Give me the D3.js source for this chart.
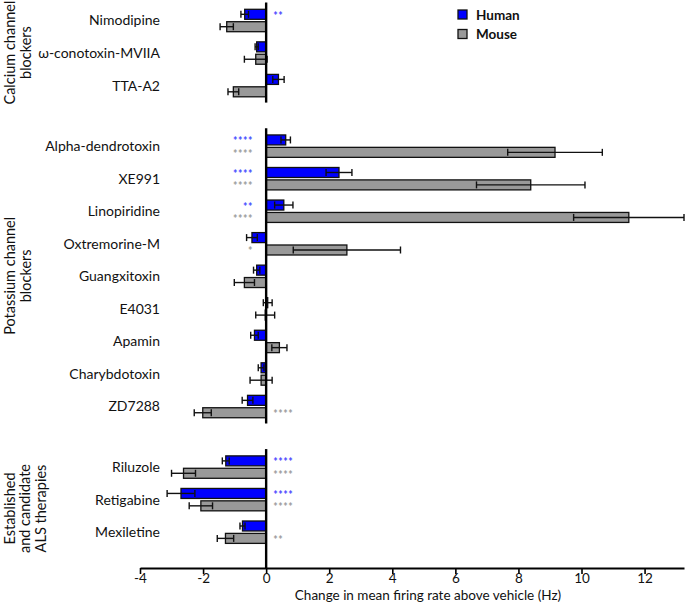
<!DOCTYPE html>
<html><head><meta charset="utf-8">
<script src="https://cdn.jsdelivr.net/npm/d3@7/dist/d3.min.js"></script>
<style>body{margin:0;background:#fff}svg{display:block}text{font-family:Lato,"Open Sans",sans-serif}</style>
</head><body><svg id="c" width="685" height="607"></svg>
<script>
const categories = ["Nimodipine","\u03c9-conotoxin-MVIIA","TTA-A2","Alpha-dendrotoxin","XE991","Linopiridine","Oxtremorine-M","Guangxitoxin","E4031","Apamin","Charybdotoxin","ZD7288","Riluzole","Retigabine","Mexiletine"];
const groupOf = [0,0,0,1,1,1,1,1,1,1,1,1,2,2,2];
const groupLabels = [["Calcium channel","blockers"],["Potassium channel","blockers"],["Established","and candidate","ALS therapies"]];
const humanMean = [-0.68,-0.30,0.39,0.62,2.31,0.56,-0.45,-0.30,0.05,-0.37,-0.16,-0.59,-1.28,-2.70,-0.75];
const humanErr  = [0.12,0.05,0.18,0.15,0.41,0.29,0.17,0.10,0.14,0.12,0.09,0.17,0.11,0.44,0.08];
const mouseMean = [-1.25,-0.33,-1.04,9.16,8.39,11.5,2.56,-0.69,-0.03,0.42,-0.16,-2.01,-2.62,-2.07,-1.29];
const mouseErr  = [0.21,0.36,0.17,1.5,1.72,1.75,1.7,0.32,0.30,0.24,0.35,0.27,0.38,0.37,0.26];
const humanSig = ["**","","","****","****","**","","","","","","","****","****",""];
const mouseSig = ["","","","****","****","****","*","","","","","****","****","****","**"];
const xTicks = [-4,-2,0,2,4,6,8,10,12];
const seriesNames = ["Human","Mouse"];
const seriesColors = ["#0000ff","#999999"];
const sigColors = ["#4646ff","#9a9a9a"];

const svg = d3.select("#c");
const x = d3.scaleLinear().domain([-4,13.25]).range([140,684]);
const slot = d3.scaleLinear().domain([0,1]).range([20.5,53.05]);
const yc = i => slot(i + groupOf[i]*0.86);
const barH = 10, off = 6.2;
const axisY = 568;

// bars
categories.forEach((c,i)=>{
  [[humanMean,-off,0],[mouseMean,off,1]].forEach(([m,dy,s])=>{
    const v=m[i], y=yc(i)+dy;
    svg.append("rect").attr("x",Math.min(x(0),x(v))).attr("y",y-barH/2)
      .attr("width",Math.abs(x(v)-x(0))).attr("height",barH)
      .attr("fill",seriesColors[s]).attr("stroke","#111").attr("stroke-width",1.3);
  });
});
// error bars
categories.forEach((c,i)=>{
  [[humanMean,humanErr,-off],[mouseMean,mouseErr,off]].forEach(([m,e,dy])=>{
    const y=yc(i)+dy, a=x(m[i]-e[i]), b=x(m[i]+e[i]);
    const g=svg.append("g").attr("stroke","#111").attr("stroke-width",1.4);
    g.append("line").attr("x1",a).attr("x2",b).attr("y1",y).attr("y2",y);
    g.append("line").attr("x1",a).attr("x2",a).attr("y1",y-3.5).attr("y2",y+3.5);
    g.append("line").attr("x1",b).attr("x2",b).attr("y1",y-3.5).attr("y2",y+3.5);
  });
});
// zero line segments per group + group labels
[0,1,2].forEach(g=>{
  const idx=categories.map((c,i)=>i).filter(i=>groupOf[i]===g);
  const y1=yc(idx[0])-18, y2 = g===2? axisY : yc(idx[idx.length-1])+17;
  svg.append("line").attr("x1",x(0)).attr("x2",x(0)).attr("y1",y1).attr("y2",y2)
    .attr("stroke","#000").attr("stroke-width",2.4);
  const lines=groupLabels[g];
  const cy=(y1+y2)/2;
  const step = lines.length===3 ? 15.5 : 16.5;
  lines.forEach((t,k)=>{
    svg.append("text").attr("transform",`translate(${14.5+k*step},${cy}) rotate(-90)`)
      .attr("text-anchor","middle").attr("font-size",14.5).attr("fill","#111").text(t);
  });
});
// category labels
categories.forEach((c,i)=>{
  svg.append("text").attr("x",160).attr("y",yc(i)).attr("dy","0.35em")
    .attr("text-anchor","end").attr("font-size",14).attr("fill","#111").text(c);
});
// significance
categories.forEach((c,i)=>{
  [[humanSig,humanMean,-off,0],[mouseSig,mouseMean,off,1]].forEach(([sg,m,dy,s])=>{
    if(!sg[i]) return;
    const right = m[i] < 0;
    svg.append("text").attr("x", right? x(0)+7 : x(0)-13).attr("y",yc(i)+dy+5.5)
      .attr("text-anchor", right?"start":"end").attr("font-size",10.5).attr("font-weight","bold")
      .attr("letter-spacing",0.6)
      .attr("fill",sigColors[s]).attr("font-family","DejaVu Sans").text(sg[i]);
  });
});
// axis
const ax = svg.append("g").attr("transform",`translate(0,${axisY})`)
  .call(d3.axisBottom(x).tickValues(xTicks).tickSize(6).tickSizeOuter(0).tickFormat(d=>d));
ax.select(".domain").attr("stroke","#000").attr("stroke-width",2);
ax.selectAll(".tick line").attr("stroke","#000").attr("stroke-width",1.6);
ax.selectAll(".tick text").attr("font-size",13.5).attr("font-family","Lato").attr("fill","#111").attr("y",5.5);
svg.append("text").attr("x",428).attr("y",600).attr("text-anchor","middle")
  .attr("font-size",13.5).attr("fill","#111").text("Change in mean firing rate above vehicle (Hz)");
// legend
seriesNames.forEach((n,k)=>{
  svg.append("rect").attr("x",458).attr("y",10+k*19.5).attr("width",9).attr("height",9)
    .attr("fill",seriesColors[k]).attr("stroke","#111").attr("stroke-width",1.3);
  svg.append("text").attr("x",476).attr("y",15+k*19.5).attr("dy","0.35em")
    .attr("font-size",13.5).attr("font-weight","bold").attr("fill","#111").text(n);
});
</script></body></html>
